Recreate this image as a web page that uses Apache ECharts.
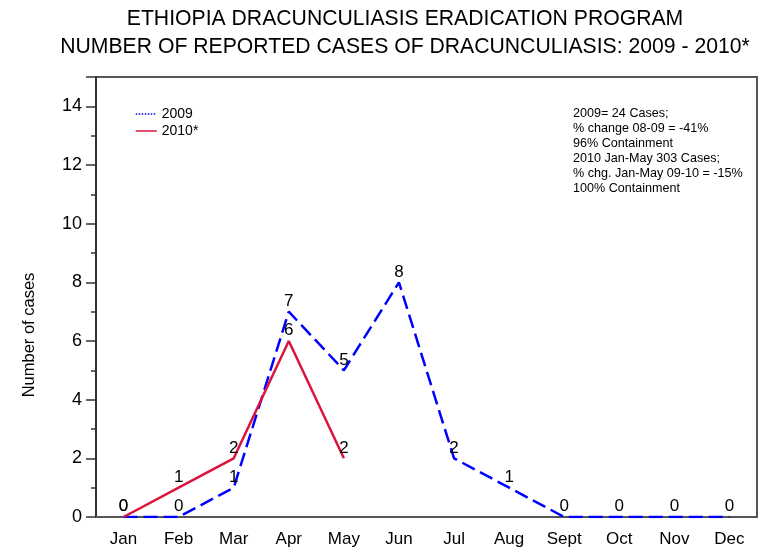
<!DOCTYPE html>
<html>
<head>
<meta charset="utf-8">
<script src="https://cdn.jsdelivr.net/npm/echarts@6/dist/echarts.min.js"></script>
<style>
  body { margin: 0; background: #fff; }
  #chart { width: 759px; height: 554px; }
</style>
</head>
<body>
<div id="chart"></div>
<script>
// months on x axis
var months = ['Jan', 'Feb', 'Mar', 'Apr', 'May', 'Jun', 'Jul', 'Aug', 'Sept', 'Oct', 'Nov', 'Dec']
// reported cases
var cases2009 = [0, 0, 1, 7, 5, 8, 2, 1, 0, 0, 0, 0]
var cases2010 = [0, 1, 2, 6, 2]
var noteLines = [
  '2009= 24 Cases;',
  '% change 08-09 = -41%',
  '96% Containment',
  '2010 Jan-May 303 Cases;',
  '% chg. Jan-May 09-10 = -15%',
  '100% Containment'
]

var myChart = echarts.init(document.getElementById('chart'))
var font = 'Liberation Sans, Arial, sans-serif'

var labelStyle = {
  show: true,
  position: 'top',
  distance: 2,
  color: '#000',
  fontSize: 17,
  fontFamily: font
}

myChart.setOption({
  animation: false,
  backgroundColor: '#fff',
  title: [
    {
      text: 'ETHIOPIA DRACUNCULIASIS ERADICATION PROGRAM',
      left: 400, top: 4, textAlign: 'center',
      textStyle: { fontSize: 21.2, fontWeight: 'normal', color: '#000', fontFamily: font }
    },
    {
      text: 'NUMBER OF REPORTED CASES OF DRACUNCULIASIS: 2009 - 2010*',
      left: 400, top: 32, textAlign: 'center',
      textStyle: { fontSize: 21.2, fontWeight: 'normal', color: '#000', fontFamily: font }
    }
  ],
  legend: {
    left: 130, top: 102, orient: 'vertical',
    itemWidth: 21, itemHeight: 14, itemGap: 3,
    textStyle: { fontSize: 14, color: '#000', fontFamily: font },
    data: [
      { name: '2009', itemStyle: { opacity: 0 }, lineStyle: { type: 'dotted', width: 1.5, color: '#0000ff' } },
      { name: '2010*', itemStyle: { opacity: 0 }, lineStyle: { type: 'solid', width: 1.5, color: '#dc143c' } }
    ]
  },
  grid: {
    left: 96, top: 77, right: 2, bottom: 37,
    show: true, borderColor: '#555', borderWidth: 2
  },
  xAxis: {
    type: 'category',
    data: months,
    boundaryGap: true,
    axisLine: { lineStyle: { color: '#555', width: 2 } },
    axisTick: { alignWithLabel: true, interval: 0, length: 11, lineStyle: { color: '#555', width: 1.5 } },
    axisLabel: { interval: 0, margin: 14, fontSize: 17, color: '#000', fontFamily: font }
  },
  yAxis: {
    type: 'value',
    min: 0, max: 15, interval: 2,
    splitLine: { show: false },
    axisLine: { show: true, lineStyle: { color: '#333', width: 2 } },
    axisTick: { show: true, length: 10, lineStyle: { color: '#333', width: 1.5 } },
    minorTick: { show: true, splitNumber: 2, length: 5, lineStyle: { color: '#333', width: 1.5 } },
    axisLabel: { showMaxLabel: false, margin: 14, fontSize: 18, color: '#000', fontFamily: font }
  },
  graphic: [
    {
      type: 'text', left: 573, top: 106,
      style: {
        text: noteLines.join('\n'), fontSize: 12.6, lineHeight: 15,
        fill: '#000', fontFamily: font
      }
    },
    {
      type: 'text', x: 29, y: 335, rotation: Math.PI / 2,
      style: {
        text: 'Number of cases', fontSize: 16.5, fill: '#000', fontFamily: font,
        align: 'center', verticalAlign: 'middle'
      }
    }
  ],
  series: [
    {
      name: '2009',
      type: 'line',
      data: cases2009,
      symbol: 'circle',
      symbolSize: 0.01,
      showSymbol: true,
      color: '#0000ff',
      lineStyle: { color: '#0000ff', width: 2.5, type: [14, 6] },
      label: labelStyle,
      z: 2
    },
    {
      name: '2010*',
      type: 'line',
      data: cases2010,
      symbol: 'circle',
      symbolSize: 0.01,
      showSymbol: true,
      color: '#dc143c',
      lineStyle: { color: '#dc143c', width: 2.5, type: 'solid' },
      label: labelStyle,
      z: 3
    }
  ]
})
</script>
</body>
</html>
